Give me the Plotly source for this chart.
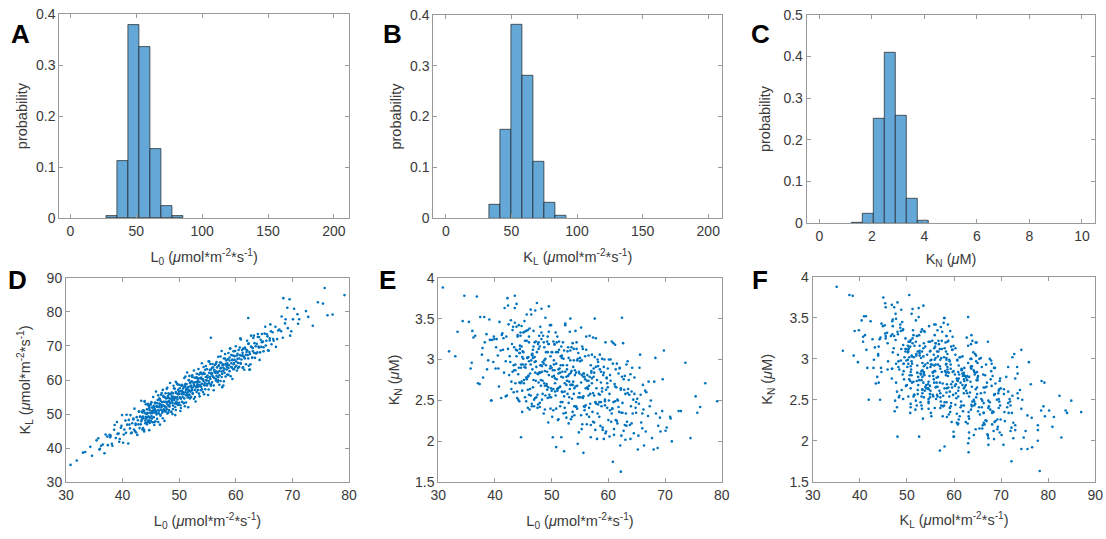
import plotly.graph_objects as go

A_centers = [31.0, 39.4, 47.8, 56.2, 64.5, 72.9, 81.2]
A_prob = [0.005, 0.112, 0.378, 0.336, 0.136, 0.025, 0.005]
A_width = 8.38

B_centers = [37.4, 45.9, 54.3, 62.7, 71.0, 79.4, 87.8]
B_prob = [0.026, 0.175, 0.380, 0.281, 0.111, 0.030, 0.005]
B_width = 8.38

C_centers = [1.45, 1.87, 2.29, 2.71, 3.13, 3.55, 3.97]
C_prob = [0.0016, 0.022, 0.250, 0.408, 0.258, 0.059, 0.0056]
C_width = 0.42

L0 = [
    30.8, 31.9, 33.4, 34.6, 35.4, 35.9, 36.5, 37.0, 37.4, 37.7,
    37.9, 38.2, 38.5, 38.8, 39.0, 39.3, 39.5, 39.7, 39.9, 40.1,
    40.3, 40.5, 40.6, 40.8, 41.0, 41.1, 41.3, 41.4, 41.6, 41.7,
    41.9, 42.0, 42.1, 42.3, 42.4, 42.5, 42.7, 42.8, 42.9, 43.0,
    43.1, 43.2, 43.3, 43.3, 43.4, 43.5, 43.6, 43.6, 43.7, 43.8,
    43.8, 43.9, 43.9, 44.0, 44.1, 44.1, 44.2, 44.3, 44.3, 44.4,
    44.4, 44.5, 44.5, 44.6, 44.7, 44.7, 44.8, 44.8, 44.9, 44.9,
    45.0, 45.0, 45.1, 45.2, 45.2, 45.3, 45.3, 45.4, 45.5, 45.5,
    45.6, 45.6, 45.7, 45.7, 45.8, 45.8, 45.9, 45.9, 46.0, 46.0,
    46.0, 46.1, 46.1, 46.2, 46.3, 46.3, 46.4, 46.5, 46.5, 46.6,
    46.6, 46.7, 46.7, 46.8, 46.8, 46.9, 47.0, 47.0, 47.1, 47.1,
    47.2, 47.2, 47.3, 47.3, 47.4, 47.5, 47.5, 47.6, 47.6, 47.7,
    47.7, 47.8, 47.8, 47.9, 47.9, 48.0, 48.0, 48.1, 48.1, 48.2,
    48.3, 48.3, 48.4, 48.4, 48.5, 48.6, 48.6, 48.7, 48.7, 48.8,
    48.8, 48.9, 48.9, 49.0, 49.0, 49.1, 49.2, 49.2, 49.3, 49.3,
    49.4, 49.4, 49.5, 49.5, 49.6, 49.7, 49.7, 49.8, 49.8, 49.9,
    49.9, 50.0, 50.0, 50.1, 50.1, 50.2, 50.3, 50.3, 50.4, 50.4,
    50.5, 50.5, 50.6, 50.6, 50.7, 50.8, 50.8, 50.9, 50.9, 51.0,
    51.0, 51.1, 51.1, 51.2, 51.2, 51.3, 51.4, 51.4, 51.5, 51.5,
    51.6, 51.6, 51.7, 51.7, 51.8, 51.8, 51.9, 51.9, 52.0, 52.0,
    52.1, 52.1, 52.2, 52.3, 52.3, 52.4, 52.4, 52.5, 52.6, 52.6,
    52.7, 52.7, 52.8, 52.9, 52.9, 53.0, 53.0, 53.1, 53.1, 53.2,
    53.3, 53.3, 53.4, 53.4, 53.5, 53.6, 53.6, 53.7, 53.7, 53.8,
    53.9, 53.9, 54.0, 54.0, 54.1, 54.2, 54.2, 54.3, 54.3, 54.4,
    54.5, 54.5, 54.6, 54.7, 54.7, 54.8, 54.9, 54.9, 55.0, 55.1,
    55.2, 55.2, 55.3, 55.3, 55.4, 55.5, 55.5, 55.6, 55.6, 55.7,
    55.8, 55.8, 55.9, 56.0, 56.0, 56.1, 56.2, 56.2, 56.3, 56.4,
    56.5, 56.5, 56.6, 56.6, 56.7, 56.8, 56.8, 56.9, 56.9, 57.0,
    57.1, 57.1, 57.2, 57.3, 57.3, 57.4, 57.5, 57.5, 57.6, 57.7,
    57.8, 57.8, 57.9, 58.0, 58.0, 58.1, 58.2, 58.2, 58.3, 58.4,
    58.5, 58.5, 58.6, 58.7, 58.7, 58.8, 58.9, 58.9, 59.0, 59.1,
    59.2, 59.2, 59.3, 59.4, 59.4, 59.5, 59.6, 59.6, 59.7, 59.8,
    59.8, 59.9, 60.0, 60.1, 60.2, 60.2, 60.3, 60.4, 60.5, 60.6,
    60.7, 60.8, 60.9, 61.0, 61.1, 61.2, 61.2, 61.3, 61.4, 61.5,
    61.6, 61.7, 61.8, 61.9, 62.0, 62.1, 62.2, 62.3, 62.4, 62.5,
    62.6, 62.7, 62.8, 62.9, 63.0, 63.1, 63.2, 63.3, 63.4, 63.5,
    63.7, 63.8, 63.9, 64.0, 64.1, 64.2, 64.4, 64.5, 64.6, 64.8,
    64.9, 65.1, 65.3, 65.4, 65.6, 65.8, 66.0, 66.1, 66.3, 66.5,
    66.7, 67.0, 67.3, 67.7, 68.1, 68.4, 68.7, 69.1, 69.5, 69.8,
    70.3, 70.9, 71.2, 72.8, 73.6, 74.5, 75.4, 75.7, 77.1, 79.2,
    62.2, 60.8, 55.6, 43.5, 42.2, 49.5, 48.2, 44.6, 50.8, 52.2, 62.4, 53.3,
    35.7, 36.2, 36.8, 37.3, 37.8, 38.1, 38.6, 39.1, 39.4, 39.8,
    40.2, 40.7, 41.2, 41.5, 41.9, 42.3, 42.6, 42.9, 43.1, 43.4,
    43.5, 43.6, 43.8, 43.9, 44.0, 44.2, 44.3, 44.4, 44.5, 44.6,
    44.7, 44.8, 45.0, 45.1, 45.2, 45.4, 45.5, 45.6, 45.7, 45.8,
    45.9, 46.0, 46.2, 46.3, 46.4, 46.5, 46.7, 46.8, 46.9, 47.0,
    47.1, 47.2, 47.4, 47.5, 47.6, 47.7, 47.9, 48.0, 48.1, 48.2,
    48.3, 48.4, 48.6, 48.7, 48.8, 48.9, 49.1, 49.2, 49.3, 49.4,
    49.5, 49.6, 49.8, 49.9, 50.0, 50.1, 50.3, 50.4, 50.5, 50.6,
    50.7, 50.8, 51.0, 51.1, 51.2, 51.3, 51.5, 51.6, 51.7, 51.8,
    51.9, 52.0, 52.2, 52.3, 52.4, 52.6, 52.7, 52.8, 53.0, 53.1,
    53.2, 53.3, 53.5, 53.6, 53.7, 53.9, 54.0, 54.1, 54.3, 54.4,
    54.5, 54.6, 54.8, 54.9, 55.0, 55.2, 55.3, 55.4, 55.6, 55.7,
    55.8, 55.9, 56.1, 56.2, 56.3, 56.5, 56.6, 56.7, 56.9, 57.0,
    57.1, 57.3, 57.4, 57.5, 57.7, 57.8, 57.9, 58.1, 58.2, 58.4,
    58.5, 58.7, 58.9, 59.0, 59.2, 59.4, 59.5, 59.7, 59.9, 60.1,
    60.3, 60.4, 60.6, 60.7, 60.9, 61.0, 61.2, 61.3, 61.5, 61.6,
    61.8, 62.0, 62.2, 62.3, 62.5, 62.7, 62.9, 63.0, 63.2, 63.4,
    63.6, 63.9, 64.1, 64.3, 64.6, 64.9, 65.2, 65.5, 65.7, 66.0,
    66.2, 66.6, 67.1, 67.5, 68.0, 68.3, 68.8, 69.2, 69.6, 70.1,
    33.0, 34.3, 36.0, 71.0, 72.4, 76.2, 46.6, 50.2, 53.8, 57.6,
]
KL = [
    35.1, 36.4, 38.9, 37.8, 42.3, 39.6, 41.1, 44.0, 40.9, 43.9,
    43.7, 40.7, 45.4, 43.0, 47.7, 44.3, 42.7, 46.0, 49.7, 41.6,
    45.5, 48.1, 44.5, 46.9, 41.4, 48.3, 45.8, 49.7, 44.6, 47.3,
    48.7, 45.5, 51.6, 47.2, 44.6, 49.1, 48.2, 47.0, 50.8, 45.9,
    49.3, 47.0, 53.9, 47.9, 50.7, 45.5, 49.3, 51.1, 48.8, 44.9,
    45.4, 53.8, 50.3, 47.3, 49.2, 52.9, 48.6, 51.4, 47.0, 50.4,
    50.2, 47.7, 53.0, 49.3, 52.1, 45.3, 51.1, 48.9, 52.7, 50.3,
    48.0, 53.0, 49.4, 50.8, 51.9, 47.6, 50.3, 55.0, 49.1, 52.4,
    46.8, 50.8, 53.3, 51.5, 47.9, 53.2, 50.6, 56.6, 49.9, 52.3,
    50.4, 53.2, 48.6, 52.2, 55.5, 51.2, 50.2, 54.6, 52.0, 46.9,
    52.7, 49.5, 53.9, 51.3, 55.7, 52.1, 50.4, 53.5, 57.1, 48.8,
    52.6, 55.0, 51.4, 53.6, 48.0, 54.9, 52.2, 56.1, 50.8, 53.5,
    54.6, 51.4, 57.4, 52.9, 50.2, 54.7, 53.6, 52.4, 56.1, 51.2,
    54.6, 52.2, 59.1, 53.1, 55.9, 50.7, 54.4, 56.3, 53.9, 50.0,
    53.3, 56.1, 51.5, 55.1, 58.3, 54.1, 53.1, 57.4, 54.9, 49.7,
    51.2, 59.5, 56.1, 53.0, 54.9, 58.7, 54.3, 57.1, 52.7, 56.1,
    55.8, 53.3, 58.6, 54.9, 57.6, 50.9, 56.7, 54.5, 58.3, 55.9,
    53.6, 58.6, 55.0, 56.3, 57.5, 53.2, 55.9, 60.6, 54.6, 58.0,
    52.3, 56.4, 58.8, 57.1, 53.4, 58.8, 56.2, 62.2, 55.5, 57.9,
    52.0, 57.2, 59.9, 55.6, 56.9, 61.2, 58.1, 54.6, 59.3, 56.6,
    58.4, 55.1, 59.6, 57.0, 61.4, 57.8, 56.0, 59.2, 62.8, 54.5,
    58.3, 60.7, 57.1, 59.4, 53.7, 60.6, 57.9, 61.8, 56.5, 59.2,
    60.4, 57.1, 63.2, 58.6, 56.0, 60.5, 59.4, 58.2, 61.9, 57.0,
    60.4, 58.0, 64.9, 58.9, 61.7, 56.5, 60.2, 62.1, 59.7, 55.8,
    59.1, 61.8, 57.3, 60.9, 64.1, 59.9, 58.9, 63.2, 60.7, 55.6,
    57.2, 65.5, 62.1, 59.0, 60.9, 64.7, 60.3, 63.1, 58.7, 62.1,
    61.9, 59.3, 64.7, 61.0, 63.7, 57.0, 62.8, 60.6, 64.4, 62.1,
    59.8, 64.8, 61.2, 62.5, 63.7, 59.4, 62.1, 66.8, 60.8, 64.2,
    58.6, 62.6, 65.1, 63.4, 59.7, 65.1, 62.5, 68.5, 61.8, 64.3,
    58.4, 63.6, 66.3, 62.1, 63.2, 67.6, 64.5, 61.0, 65.7, 63.1,
    64.9, 61.6, 66.1, 63.5, 67.9, 64.3, 62.6, 65.7, 69.3, 61.1,
    64.9, 67.3, 63.7, 66.0, 60.3, 67.2, 64.6, 68.4, 63.2, 65.9,
    67.0, 63.8, 69.9, 65.4, 62.8, 67.2, 66.2, 65.0, 68.8, 63.9,
    67.3, 65.0, 71.9, 66.0, 68.8, 63.6, 67.3, 69.2, 66.9, 63.0,
    66.3, 69.1, 64.6, 68.2, 71.5, 67.3, 66.3, 70.7, 68.2, 63.1,
    64.6, 73.0, 69.6, 66.6, 68.5, 72.3, 68.0, 70.8, 66.5, 69.9,
    70.6, 68.1, 73.5, 69.8, 72.6, 65.9, 71.8, 69.7, 73.5, 71.3,
    68.4, 73.6, 70.1, 71.5, 72.8, 68.6, 71.6, 76.3, 70.5, 74.0,
    71.5, 75.6, 72.0, 74.8, 78.6, 84.0, 76.6, 81.2, 83.7, 74.3,
    80.9, 79.3, 77.8, 78.5, 75.9, 82.8, 82.4, 87.0, 79.2, 84.9,
    78.2, 72.2, 72.4, 50.5, 45.0, 53.5, 52.5, 48.0, 58.0, 57.0, 63.0, 58.0,
    42.9, 40.7, 38.5, 43.4, 43.2, 41.3, 46.8, 44.2, 41.9, 46.6,
    44.0, 49.8, 46.9, 44.4, 48.4, 46.8, 43.9, 50.7, 49.2, 48.4,
    49.0, 45.9, 51.0, 53.6, 48.1, 50.1, 47.5, 49.2, 52.6, 48.2,
    51.6, 47.4, 50.3, 53.5, 48.7, 51.1, 51.9, 47.6, 50.5, 53.3,
    51.0, 52.2, 54.1, 47.7, 51.0, 53.1, 49.8, 52.7, 56.2, 51.0,
    50.8, 55.4, 52.3, 50.8, 53.6, 51.9, 57.7, 55.3, 50.5, 53.8,
    55.8, 53.3, 50.7, 55.2, 54.6, 52.5, 57.6, 54.6, 52.1, 56.5,
    53.6, 59.0, 55.8, 53.1, 56.7, 54.8, 51.8, 58.4, 56.8, 55.8,
    56.4, 53.3, 58.4, 61.0, 55.5, 57.4, 54.9, 56.6, 60.0, 55.7,
    59.1, 54.9, 57.7, 60.9, 56.1, 58.5, 59.3, 55.0, 58.0, 60.8,
    58.5, 59.7, 61.6, 55.2, 58.5, 60.7, 57.3, 60.2, 63.8, 58.6,
    58.4, 63.0, 59.9, 58.4, 61.3, 59.7, 65.4, 63.0, 58.3, 61.6,
    63.6, 61.0, 58.4, 62.9, 62.3, 60.3, 65.3, 62.3, 59.9, 64.3,
    61.4, 66.9, 63.6, 60.9, 64.6, 62.7, 59.6, 66.3, 64.7, 63.9,
    64.5, 61.5, 66.6, 69.2, 63.8, 65.8, 63.2, 65.0, 68.5, 64.2,
    67.7, 63.5, 66.3, 69.5, 64.8, 67.1, 68.0, 63.7, 66.7, 69.5,
    67.4, 68.7, 70.6, 64.2, 67.6, 69.8, 66.5, 69.4, 73.0, 67.9,
    67.8, 72.6, 69.5, 68.1, 71.1, 69.6, 75.6, 73.4, 68.7, 72.2,
    74.3, 72.0, 69.7, 74.5, 74.3, 72.4, 77.8, 75.2, 73.0, 77.8,
    38.7, 40.4, 39.8, 76.5, 80.2, 79.0, 54.3, 52.6, 62.2, 57.9,
]
KN = [
    3.88, 3.10, 3.34, 3.78, 3.46, 2.96, 3.29, 2.71, 3.52, 3.06,
    2.78, 3.21, 3.31, 2.99, 3.49, 2.50, 3.24, 2.97, 3.25, 2.89,
    3.25, 3.05, 2.89, 3.46, 3.11, 2.53, 3.32, 3.12, 2.84, 3.63,
    2.98, 3.28, 2.56, 3.13, 3.43, 2.81, 2.97, 3.48, 2.64, 3.19,
    2.85, 3.40, 2.93, 2.60, 3.15, 3.63, 2.94, 2.71, 3.12, 3.40,
    3.68, 2.61, 3.11, 3.28, 2.51, 2.82, 3.42, 2.72, 3.08, 3.13,
    3.08, 2.71, 3.33, 2.94, 2.73, 3.41, 3.03, 2.62, 3.10, 2.94,
    3.33, 3.01, 2.75, 2.91, 3.47, 3.23, 2.54, 2.90, 3.35, 2.78,
    2.76, 3.23, 2.78, 3.02, 2.41, 3.36, 2.80, 3.03, 2.98, 2.57,
    3.21, 2.39, 3.38, 2.83, 2.56, 3.61, 2.99, 2.46, 3.06, 2.88,
    3.07, 3.02, 2.66, 3.35, 2.75, 2.43, 3.21, 3.03, 2.53, 3.60,
    2.74, 2.98, 2.54, 2.91, 3.69, 2.57, 2.83, 3.19, 2.45, 3.13,
    2.72, 3.29, 2.84, 2.47, 3.16, 3.40, 2.84, 2.68, 2.93, 3.25,
    2.51, 2.92, 2.97, 2.74, 3.29, 2.34, 2.95, 2.71, 3.15, 2.68,
    2.86, 3.01, 2.56, 2.93, 3.09, 2.68, 2.85, 3.22, 2.53, 3.09,
    3.19, 2.23, 3.19, 2.81, 2.57, 3.42, 2.89, 2.40, 3.04, 2.65,
    3.42, 2.62, 2.90, 3.09, 2.30, 2.87, 3.22, 2.64, 2.80, 2.99,
    3.19, 2.87, 2.61, 2.77, 3.33, 3.09, 2.40, 2.76, 3.21, 2.64,
    2.62, 3.09, 2.65, 2.88, 2.27, 3.22, 2.66, 2.89, 2.84, 2.43,
    3.04, 2.48, 3.16, 2.79, 2.61, 3.02, 2.85, 2.48, 2.93, 2.78,
    3.01, 2.34, 3.11, 2.71, 2.41, 3.44, 2.85, 2.35, 2.79, 2.69,
    2.93, 2.74, 2.58, 3.15, 2.80, 2.22, 3.02, 2.82, 2.54, 3.34,
    2.69, 2.99, 2.27, 2.84, 3.15, 2.52, 2.69, 3.20, 2.36, 2.91,
    2.58, 3.13, 2.65, 2.32, 2.87, 3.35, 2.67, 2.43, 2.84, 3.13,
    2.40, 2.68, 3.01, 2.54, 3.08, 2.11, 2.83, 2.54, 2.98, 2.54,
    3.39, 2.32, 2.81, 2.99, 2.21, 2.53, 3.13, 1.86, 2.79, 2.83,
    2.79, 2.42, 3.04, 2.65, 2.44, 3.12, 2.74, 2.33, 2.81, 2.64,
    2.56, 2.74, 2.30, 2.68, 3.29, 2.46, 2.58, 2.93, 2.20, 2.86,
    3.06, 2.77, 2.36, 2.59, 3.27, 2.79, 2.23, 2.56, 3.03, 2.48,
    2.47, 2.91, 2.46, 2.75, 2.03, 3.00, 2.45, 2.92, 2.58, 2.30,
    2.57, 2.88, 2.19, 2.72, 2.85, 2.43, 2.61, 3.01, 2.17, 2.81,
    2.84, 2.03, 3.00, 2.49, 2.44, 3.21, 2.63, 2.12, 2.78, 2.41,
    2.71, 2.66, 2.26, 3.00, 2.58, 2.06, 2.81, 2.74, 2.24, 3.22,
    2.40, 2.95, 2.48, 2.15, 2.70, 3.18, 2.49, 2.26, 2.66, 2.95,
    2.22, 2.50, 2.83, 2.36, 2.90, 1.95, 2.65, 2.35, 2.79, 2.35,
    3.20, 2.13, 2.63, 2.80, 2.02, 2.34, 2.94, 2.24, 2.59, 2.64,
    2.57, 2.20, 2.82, 2.43, 2.22, 2.90, 2.51, 2.10, 2.58, 2.41,
    2.35, 2.52, 2.07, 2.46, 3.06, 2.23, 2.34, 2.69, 1.95, 2.62,
    2.60, 2.31, 2.43, 2.04, 2.73, 2.34, 1.92, 2.29, 2.37, 3.11,
    2.17, 2.30, 2.00, 2.37, 2.96, 2.04, 2.55, 2.35, 2.71, 2.49,
    1.63, 1.75, 2.55, 3.78, 3.75, 3.65, 3.62, 2.05, 1.93, 1.88, 3.51, 3.50,
    2.89, 3.27, 3.77, 2.70, 3.14, 3.52, 2.88, 3.24, 2.50, 3.28,
    3.15, 2.67, 3.30, 3.26, 2.55, 3.66, 3.04, 2.73, 3.36, 2.87,
    3.45, 2.87, 3.04, 2.53, 3.30, 2.90, 2.49, 3.17, 3.29, 2.90,
    3.16, 2.36, 3.09, 2.71, 3.34, 2.94, 2.49, 3.55, 3.02, 2.63,
    2.80, 3.28, 2.64, 2.94, 3.55, 2.43, 3.12, 3.16, 2.51, 2.97,
    2.84, 3.22, 3.09, 2.41, 2.82, 3.21, 2.42, 2.93, 2.75, 3.33,
    2.85, 2.58, 3.21, 2.99, 2.39, 3.51, 2.70, 2.63, 3.28, 2.66,
    3.34, 2.54, 2.92, 2.54, 3.09, 2.79, 2.38, 2.94, 3.18, 2.71,
    2.56, 2.95, 3.28, 2.26, 2.83, 3.12, 2.67, 2.93, 2.05, 3.05,
    2.60, 3.21, 2.55, 2.61, 3.42, 2.29, 2.88, 3.10, 2.47, 2.73,
    2.64, 3.11, 2.86, 2.30, 2.69, 2.99, 2.43, 2.81, 2.42, 3.21,
    2.99, 1.97, 2.85, 2.59, 3.02, 2.72, 2.15, 3.16, 2.83, 2.43,
    2.38, 2.76, 3.28, 2.21, 2.66, 3.05, 2.41, 2.79, 2.05, 2.84,
    2.71, 2.24, 2.89, 2.84, 2.14, 3.26, 2.65, 2.34, 2.97, 2.48,
    3.06, 2.48, 2.65, 2.14, 2.91, 2.51, 2.10, 2.77, 2.89, 2.50,
    2.38, 3.00, 2.34, 2.40, 3.20, 2.08, 2.67, 2.88, 2.25, 2.51,
    2.42, 2.89, 2.63, 2.07, 2.47, 2.76, 2.20, 2.58, 2.19, 2.98,
    2.75, 2.03, 2.61, 2.34, 2.78, 2.48, 1.90, 2.90, 2.57, 2.16,
    2.39, 2.12, 2.73, 2.50, 1.90, 3.02, 2.19, 2.12, 2.76, 2.13,
    3.04, 3.47, 3.35, 2.28, 2.37, 2.42, 3.05, 2.05, 2.73, 3.50,
]

# ---------------- labels ----------------
LAB_L0 = "L<sub>0</sub> (<i>μ</i>mol*m<sup>-2</sup>*s<sup>-1</sup>)"
LAB_KL = "K<sub>L</sub> (<i>μ</i>mol*m<sup>-2</sup>*s<sup>-1</sup>)"
LAB_KN = "K<sub>N</sub> (<i>μ</i>M)"
LAB_P = "probability"

W, H = 1106, 539
FONT = "Liberation Sans, Arial, sans-serif"
TXT = "#3a3a3a"
AXC = "#9a9a9a"
BAR_FILL = "rgb(100,168,215)"
BAR_EDGE = "rgba(25,25,25,0.85)"
DOT = "#0072BD"


def dx(a, b):
    return [a / W, b / W]


def dy(top, bottom):
    return [1 - bottom / H, 1 - top / H]


def axis(domain, rng, tickvals, title, standoff):
    return dict(
        domain=domain, range=rng, tickvals=tickvals,
        showline=True, linecolor=AXC, linewidth=1, mirror="ticks",
        ticks="inside", ticklen=4, tickcolor=AXC, tickwidth=1,
        showgrid=False, zeroline=False, automargin=False,
        tickfont=dict(family=FONT, size=14, color=TXT),
        title=dict(text=title, font=dict(family=FONT, size=14.5, color=TXT), standoff=standoff),
    )


fig = go.Figure()

# Histograms
fig.add_trace(go.Bar(x=A_centers, y=A_prob, width=A_width, xaxis="x", yaxis="y",
                     marker=dict(color=BAR_FILL, line=dict(color=BAR_EDGE, width=0.8))))
fig.add_trace(go.Bar(x=B_centers, y=B_prob, width=B_width, xaxis="x2", yaxis="y2",
                     marker=dict(color=BAR_FILL, line=dict(color=BAR_EDGE, width=0.8))))
fig.add_trace(go.Bar(x=C_centers, y=C_prob, width=C_width, xaxis="x3", yaxis="y3",
                     marker=dict(color=BAR_FILL, line=dict(color=BAR_EDGE, width=0.8))))

# Scatter plots
mk = dict(color=DOT, size=2.6, line=dict(width=0))
fig.add_trace(go.Scatter(x=L0, y=KL, mode="markers", marker=mk, xaxis="x4", yaxis="y4"))
fig.add_trace(go.Scatter(x=L0, y=KN, mode="markers", marker=mk, xaxis="x5", yaxis="y5"))
fig.add_trace(go.Scatter(x=KL, y=KN, mode="markers", marker=mk, xaxis="x6", yaxis="y6"))

layout = dict(
    width=W, height=H, margin=dict(l=0, r=0, t=0, b=0),
    paper_bgcolor="white", plot_bgcolor="white", showlegend=False, bargap=0,
    font=dict(family=FONT, color=TXT),
    xaxis=axis(dx(59.3, 349), [-8.5, 211.5], [0, 50, 100, 150, 200], LAB_L0, 13),
    yaxis=axis(dy(14, 218.3), [0, 0.4], [0, 0.1, 0.2, 0.3, 0.4], LAB_P, 4),
    xaxis2=axis(dx(433.3, 722.3), [-9.5, 210.7], [0, 50, 100, 150, 200], LAB_KL, 13),
    yaxis2=axis(dy(14.7, 218.3), [0, 0.4], [0, 0.1, 0.2, 0.3, 0.4], LAB_P, 4),
    xaxis3=axis(dx(806.7, 1095.3), [-0.48, 10.51], [0, 2, 4, 6, 8, 10], LAB_KN, 10),
    yaxis3=axis(dy(14.7, 223.3), [0, 0.5], [0, 0.1, 0.2, 0.3, 0.4, 0.5], LAB_P, 9),
    xaxis4=axis(dx(66, 349), [30, 80], [30, 40, 50, 60, 70, 80], LAB_L0, 13),
    yaxis4=axis(dy(277.7, 482.3), [30, 90], [30, 40, 50, 60, 70, 80, 90], LAB_KL, 12),
    xaxis5=axis(dx(438.3, 721.7), [30, 80], [30, 40, 50, 60, 70, 80], LAB_L0, 13),
    yaxis5=axis(dy(277.7, 482.3), [1.5, 4], [1.5, 2, 2.5, 3, 3.5, 4], LAB_KN, 11),
    xaxis6=axis(dx(812.7, 1095.3), [30, 90], [30, 40, 50, 60, 70, 80, 90], LAB_KL, 13),
    yaxis6=axis(dy(277, 481.7), [1.5, 4], [1.5, 2, 2.5, 3, 3.5, 4], LAB_KN, 13),
)
for i in range(1, 7):
    sfx = "" if i == 1 else str(i)
    layout["xaxis" + sfx]["anchor"] = "y" + sfx
    layout["yaxis" + sfx]["anchor"] = "x" + sfx

letters = [("A", 20, 34), ("B", 392, 34), ("C", 760, 34),
           ("D", 17, 280), ("E", 387, 280), ("F", 760, 280)]
layout["annotations"] = [
    dict(text="<b>%s</b>" % t, x=px / W, y=1 - py / H, xref="paper", yref="paper",
         showarrow=False, xanchor="center", yanchor="middle",
         font=dict(family=FONT, size=26, color="black"))
    for t, px, py in letters
]

fig.update_layout(**layout)
fig.write_html("out.html", config={"displayModeBar": False},
               post_script="document.body.style.margin='0px';document.body.style.overflow='hidden';")
